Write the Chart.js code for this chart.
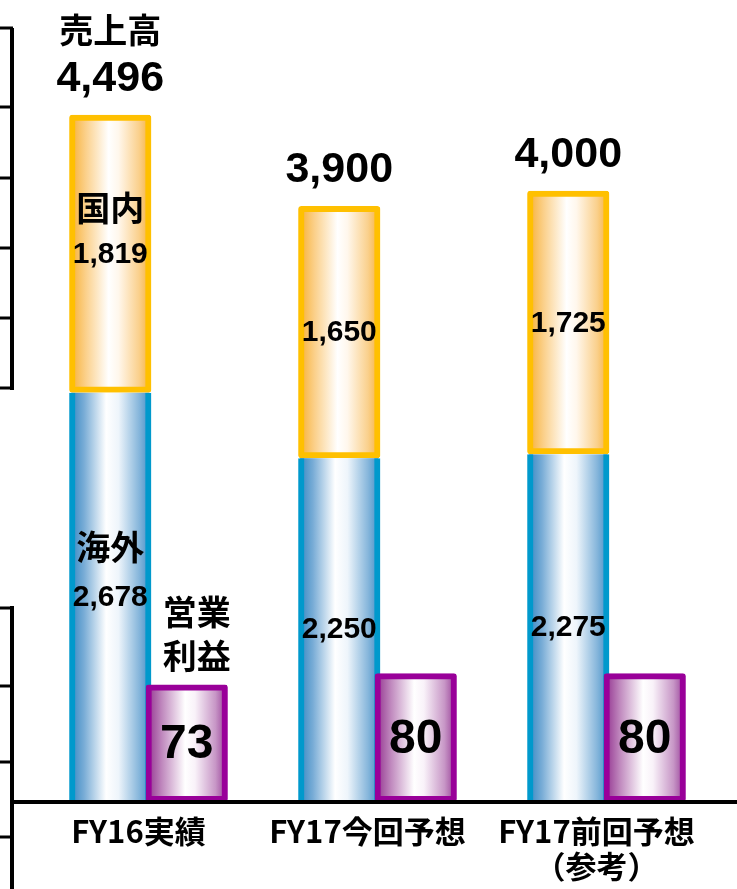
<!DOCTYPE html>
<html lang="ja">
<head>
<meta charset="utf-8">
<title>売上高・営業利益</title>
<script src="https://cdn.jsdelivr.net/npm/chart.js@4.4.1/dist/chart.umd.min.js"></script>
<style>
  html, body { margin: 0; padding: 0; background: #ffffff; }
  #chart { display: block; }
</style>
</head>
<body>
<canvas id="chart" width="737" height="889"></canvas>
<script>
// 期別の区分
const categories = ['FY16実績', 'FY17今回予想', ['FY17前回予想', '（参考）']];

// 売上高の内訳（億円）
const overseasSales = [2678, 2250, 2275];   // 海外
const domesticSales = [1819, 1650, 1725];   // 国内
const salesTotals = [4496, 3900, 4000];     // 売上高合計

// 営業利益（億円）
const operatingProfit = [73, 80, 80];

// 系列名
const overseasName = '海外';
const domesticName = '国内';
const salesName = '売上高';
const profitName = ['営業', '利益'];

const NUM_FONT = '"Liberation Sans", Arial, sans-serif';
const JP_FONT = '"Noto Sans CJK JP", sans-serif';

// 円柱風の横方向グラデーション
const shades = {
  overseas: [[0, '#2f84c1'], [0.18, '#78acd6'], [0.45, '#ffffff'], [0.6, '#eef5fb'], [0.85, '#86b6db'], [1, '#3b8cc6']],
  domestic: [[0, '#f7ad2c'], [0.2, '#fbd08a'], [0.48, '#ffffff'], [0.6, '#fff7ec'], [0.85, '#fad08c'], [1, '#f6af33']],
  profit:   [[0, '#8e2a8b'], [0.2, '#c089be'], [0.48, '#ffffff'], [0.6, '#f9f2f9'], [0.85, '#c796c6'], [1, '#923592']]
};

const PROFIT_INDEX = 2;

function shadeBars(chart, meta) {
  const ctx = chart.ctx;
  const stops = shades[meta._dataset.shade];
  const inset = meta._dataset.shadeInset;
  ctx.save();
  meta.data.forEach(el => {
    const { x, y, base, width } = el.getProps(['x', 'y', 'base', 'width'], true);
    const left = x - width / 2;
    const grad = ctx.createLinearGradient(left, 0, left + width, 0);
    stops.forEach(([o, c]) => grad.addColorStop(o, c));
    ctx.fillStyle = grad;
    const top = Math.min(y, base);
    const h = Math.abs(base - y);
    ctx.fillRect(left + 2, top + inset, width - 4, h - inset * 2);
  });
  ctx.restore();
}

const barShading = {
  id: 'barShading',
  beforeDatasetDraw(chart, args) {
    // 営業利益の棒は売上高の棒より手前に描く
    if (args.index === PROFIT_INDEX) return false;
    shadeBars(chart, args.meta);
  },
  afterDatasetsDraw(chart) {
    const meta = chart.getDatasetMeta(PROFIT_INDEX);
    shadeBars(chart, meta);
    meta.controller.draw();
  }
};

const frameAndLabels = {
  id: 'frameAndLabels',
  afterDatasetsDraw(chart) {
    const ctx = chart.ctx;
    const yScale = chart.scales.y;
    const zeroY = yScale.getPixelForValue(0);

    ctx.save();
    ctx.strokeStyle = '#000000';
    ctx.lineCap = 'butt';

    // 基準線
    ctx.lineWidth = 4;
    ctx.beginPath();
    ctx.moveTo(12, zeroY);
    ctx.lineTo(chart.width, zeroY);
    ctx.stroke();

    // 左側の目盛り枠
    ctx.lineWidth = 4;
    ctx.beginPath();
    ctx.moveTo(12, 28);
    ctx.lineTo(12, 390);
    ctx.moveTo(12, 606);
    ctx.lineTo(12, chart.height);
    ctx.stroke();
    ctx.lineWidth = 3;
    ctx.beginPath();
    [28, 107, 178, 248, 318, 388, 608, 686, 762, 837].forEach(ty => {
      ctx.moveTo(0, ty);
      ctx.lineTo(13, ty);
    });
    ctx.stroke();

    // 数値ラベル
    ctx.fillStyle = '#000000';
    ctx.textAlign = 'center';
    ctx.textBaseline = 'middle';
    const fmt = v => v.toLocaleString('en-US');

    const ovs = chart.getDatasetMeta(0).data;
    const dom = chart.getDatasetMeta(1).data;
    const prf = chart.getDatasetMeta(PROFIT_INDEX).data;

    dom.forEach((el, i) => {
      const { x, y, base } = el.getProps(['x', 'y', 'base'], true);
      ctx.font = 'bold 43px ' + NUM_FONT;
      ctx.fillText(fmt(salesTotals[i]), x, y - 36);
      if (i === 0) {
        ctx.font = 'bold 34px ' + JP_FONT;
        ctx.fillText(salesName, x, y - 85);
      }
      const mid = (y + base) / 2;
      ctx.font = 'bold 30px ' + NUM_FONT;
      ctx.fillText(fmt(domesticSales[i]), x, mid + 1);
      if (i === 0) {
        ctx.font = 'bold 34px ' + JP_FONT;
        ctx.fillText(domesticName, x, mid - 46);
      }
    });

    ovs.forEach((el, i) => {
      const { x, y, base } = el.getProps(['x', 'y', 'base'], true);
      const mid = (y + base) / 2;
      ctx.font = 'bold 30px ' + NUM_FONT;
      ctx.fillText(fmt(overseasSales[i]), x, mid);
      if (i === 0) {
        ctx.font = 'bold 34px ' + JP_FONT;
        ctx.fillText(overseasName, x, mid - 50);
      }
    });

    prf.forEach((el, i) => {
      const { x, y, base } = el.getProps(['x', 'y', 'base'], true);
      const mid = (y + base) / 2;
      ctx.font = 'bold 48px ' + NUM_FONT;
      ctx.fillText(fmt(operatingProfit[i]), x, mid + 2);
      if (i === 0) {
        ctx.font = 'bold 34px ' + JP_FONT;
        ctx.fillText(profitName[0], x + 10, y - 72);
        ctx.fillText(profitName[1], x + 10, y - 28);
      }
    });
    ctx.restore();
  }
};

const barCommon = {
  backgroundColor: 'rgba(0,0,0,0)',
  borderSkipped: false,
  categoryPercentage: 0.668,
  barPercentage: 1.075
};

new Chart(document.getElementById('chart'), {
  type: 'bar',
  data: {
    labels: categories,
    datasets: [
      Object.assign({}, barCommon, {
        label: overseasName,
        data: overseasSales,
        stack: 'sales',
        yAxisID: 'y',
        borderColor: '#0099cc',
        borderWidth: { left: 6, right: 6, top: 0, bottom: 0 },
        shade: 'overseas',
        shadeInset: 0
      }),
      Object.assign({}, barCommon, {
        label: domesticName,
        data: domesticSales,
        stack: 'sales',
        yAxisID: 'y',
        borderColor: '#ffc000',
        borderWidth: 6,
        borderRadius: 3,
        shade: 'domestic',
        shadeInset: 2
      }),
      Object.assign({}, barCommon, {
        label: profitName.join(''),
        data: operatingProfit,
        stack: 'profit',
        yAxisID: 'y1',
        borderColor: '#990099',
        borderWidth: 6,
        borderRadius: 3,
        shade: 'profit',
        shadeInset: 2
      })
    ]
  },
  options: {
    responsive: false,
    animation: false,
    events: [],
    layout: { padding: { left: 34, right: 16, top: 38, bottom: -6.4 } },
    plugins: {
      legend: { display: false },
      tooltip: { enabled: false }
    },
    scales: {
      x: {
        grid: { display: false, drawTicks: false },
        border: { display: false },
        ticks: {
          color: '#000000',
          font: { family: JP_FONT, size: 31, weight: 'bold', lineHeight: 1.12 },
          padding: 12,
          labelOffset: -10,
          maxRotation: 0,
          autoSkip: false
        }
      },
      y: { display: false, stacked: true, min: 0, max: 5000 },
      y1: { display: false, min: 0, max: 475 }
    }
  },
  plugins: [barShading, frameAndLabels]
});
</script>
</body>
</html>
